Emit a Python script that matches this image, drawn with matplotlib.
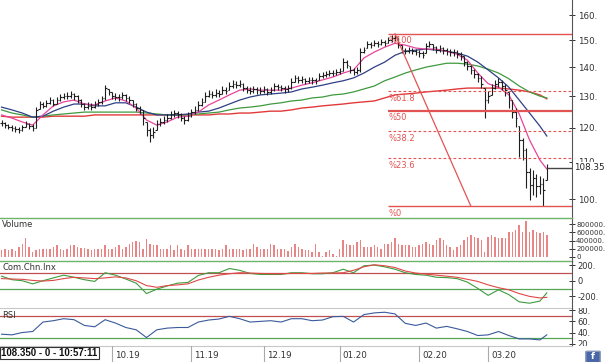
import numpy as np
import pandas as pd
import matplotlib
matplotlib.use('Agg')
import matplotlib.pyplot as plt
from matplotlib.ticker import NullLocator
from matplotlib.transforms import Bbox, TransformedBbox, blended_transform_factory
from matplotlib.patches import FancyBboxPatch

# daily bars, 16.08.2019 -> 25.03.2020
close = [121.5, 120.8, 120.2, 119.9, 119.6, 119.3, 120.2, 121.1, 120.5, 119.9,
         125.6, 127.5, 126.9, 127.9, 128.8, 127.5, 128.8, 129.8, 130.1, 130.1,
         130.8, 130.1, 128.8, 127.5, 126.5, 126.9, 126.5, 127.5, 128.2, 129.5,
         132.8, 131.5, 130.1, 129.8, 129.8, 130.5, 129.5, 128.8, 127.5, 126.2,
         125.6, 123.0, 119.3, 117.8, 118.7, 121.1, 121.8, 122.4, 123.0, 124.3,
         124.6, 124.3, 123.0, 122.4, 123.6, 124.9, 125.6, 127.2, 128.2, 130.1,
         130.8, 130.5, 131.1, 130.8, 132.1, 131.8, 133.5, 134.3, 133.8, 134.3,
         132.8, 132.1, 131.8, 132.5, 132.1, 131.8, 132.5, 131.5, 132.1, 133.5,
         133.1, 132.8, 132.5, 132.8, 135.0, 136.3, 135.6, 136.0, 135.3, 135.6,
         135.6, 135.3, 137.0, 137.3, 137.6, 138.0, 138.0, 138.4, 138.7, 141.9,
         140.8, 139.1, 138.4, 139.1, 145.6, 146.3, 148.6, 148.2, 148.9, 148.6,
         149.3, 148.9, 150.1, 150.9, 151.3, 148.2, 146.3, 145.9, 146.3, 145.9,
         145.6, 145.2, 144.4, 147.8, 148.6, 147.4, 146.3, 147.1, 146.3, 145.9,
         145.6, 145.6, 144.8, 144.1, 141.9, 140.5, 139.1, 137.6, 136.3, 134.3,
         128.8, 130.1, 132.8, 134.3, 135.0, 133.5, 132.1, 128.8, 124.9, 123.0,
         116.3, 113.3, 107.1, 103.6, 105.5, 103.4, 103.9, 102.3, 108.35]
high = [122.4, 121.8, 121.1, 120.8, 120.5, 120.2, 120.8, 122.1, 121.5, 121.1,
        126.5, 128.5, 128.2, 128.8, 129.8, 129.2, 129.8, 130.8, 131.1, 131.5,
        131.8, 131.1, 130.5, 129.2, 127.9, 128.2, 127.9, 128.5, 129.2, 130.1,
        133.8, 132.5, 131.5, 131.1, 130.8, 131.5, 130.8, 130.1, 128.8, 127.9,
        126.9, 125.6, 121.8, 119.9, 120.2, 122.4, 123.0, 123.6, 124.3, 125.2,
        125.6, 125.2, 124.6, 123.6, 124.9, 125.9, 126.9, 128.5, 129.5, 131.5,
        132.1, 131.8, 132.5, 132.1, 133.5, 133.1, 135.0, 135.6, 135.3, 135.6,
        134.6, 133.5, 133.1, 133.5, 133.1, 133.1, 133.5, 132.8, 133.1, 134.6,
        134.3, 133.8, 133.5, 133.8, 136.3, 137.3, 137.0, 137.0, 136.3, 136.6,
        136.6, 136.3, 138.0, 138.4, 138.7, 139.1, 139.1, 139.4, 139.8, 143.4,
        142.6, 140.5, 139.8, 140.1, 147.1, 147.4, 149.7, 149.3, 150.1, 149.7,
        150.5, 150.1, 151.3, 152.1, 152.5, 150.9, 148.2, 147.1, 147.4, 147.1,
        146.7, 146.3, 145.9, 148.9, 149.7, 148.6, 147.8, 148.2, 147.4, 147.1,
        146.7, 146.7, 146.3, 145.6, 144.1, 142.3, 140.8, 139.4, 138.0, 137.0,
        132.8, 131.8, 134.3, 135.6, 136.3, 135.6, 134.3, 131.5, 128.8, 126.2,
        120.5, 116.9, 113.9, 108.2, 107.7, 106.6, 106.0, 105.5, 109.4]
low = [120.5, 119.9, 119.6, 119.0, 118.7, 118.4, 119.0, 120.2, 119.6, 119.0,
       119.9, 125.9, 126.2, 126.5, 127.5, 126.9, 127.5, 128.5, 129.2, 129.2,
       129.5, 128.8, 127.9, 126.5, 125.6, 125.9, 125.6, 126.2, 126.9, 127.5,
       128.8, 130.5, 129.2, 128.8, 128.5, 129.2, 128.5, 127.9, 126.5, 125.2,
       124.3, 120.8, 117.5, 115.7, 116.9, 119.3, 120.5, 121.1, 121.8, 122.7,
       123.3, 123.0, 122.1, 121.1, 122.1, 123.3, 124.3, 125.2, 126.9, 128.2,
       129.8, 129.5, 129.8, 129.8, 130.8, 130.8, 132.1, 132.8, 132.8, 133.1,
       131.8, 131.1, 130.8, 131.1, 130.8, 130.8, 131.1, 130.5, 130.8, 131.8,
       132.1, 131.8, 131.1, 131.5, 132.5, 135.0, 134.6, 134.6, 134.3, 134.6,
       134.3, 134.3, 135.6, 136.3, 136.6, 137.0, 137.0, 137.3, 137.6, 138.7,
       139.8, 138.0, 137.3, 137.6, 138.4, 145.2, 147.1, 147.1, 147.8, 147.4,
       148.2, 147.8, 148.9, 149.3, 149.7, 147.1, 145.2, 144.8, 145.2, 144.8,
       144.4, 143.7, 143.4, 145.2, 147.4, 146.3, 145.2, 145.6, 144.8, 144.4,
       144.1, 144.1, 143.4, 142.6, 140.5, 139.1, 137.6, 136.3, 135.0, 132.8,
       123.0, 127.9, 130.5, 132.5, 133.1, 132.1, 130.1, 126.2, 123.0, 120.2,
       111.3, 110.5, 102.9, 99.7, 101.0, 100.5, 101.2, 98.2, 105.0]
volume_k = [158, 183, 158, 183, 142, 242, 325, 467, 242, 117,
            158, 200, 183, 200, 200, 242, 300, 183, 158, 183,
            283, 300, 242, 220, 220, 200, 158, 200, 200, 183,
            283, 200, 183, 242, 283, 200, 242, 325, 367, 383,
            367, 200, 433, 325, 300, 283, 200, 183, 200, 283,
            158, 300, 200, 158, 283, 183, 183, 183, 200, 200,
            200, 183, 200, 158, 200, 300, 200, 200, 183, 200,
            158, 200, 183, 325, 242, 200, 183, 183, 325, 283,
            200, 183, 200, 133, 242, 325, 240, 200, 158, 158,
            117, 325, 117, 17, 117, 158, 75, 33, 200, 408,
            325, 283, 283, 367, 408, 242, 242, 242, 283, 242,
            200, 325, 325, 367, 450, 325, 283, 283, 283, 242,
            242, 283, 325, 367, 325, 283, 408, 450, 408, 283,
            242, 158, 242, 283, 408, 492, 533, 492, 450, 408,
            117, 492, 533, 492, 450, 450, 450, 617, 617, 658,
            783, 617, 867, 617, 658, 617, 575, 617, 533]

# indicator lines, read every third bar
ind_idx = list(range(0, 157, 3)) + [158]
ma_fast = [124.0, 123.0, 121.8, 120.8, 124.0, 126.9, 128.2, 128.8, 127.5, 127.2,
           128.5, 129.5, 128.5, 126.2, 122.4, 120.8, 121.8, 123.3, 123.6, 124.9,
           127.2, 128.8, 130.5, 132.1, 132.5, 132.1, 132.1, 132.1, 132.8, 133.8,
           134.6, 135.6, 136.6, 138.0, 139.1, 143.4, 145.6, 147.4, 148.9, 148.2,
           147.1, 146.7, 146.7, 145.9, 144.8, 142.6, 138.0, 134.3, 133.1, 130.5,
           124.3, 116.3, 110.5, 108.0]
ma_mid = [126.5, 125.6, 124.6, 123.3, 123.6, 125.2, 126.5, 127.5, 127.5, 126.9,
          126.9, 127.9, 127.9, 126.5, 124.9, 124.0, 124.0, 124.0, 124.3, 124.9,
          125.2, 126.2, 127.5, 128.8, 129.8, 130.5, 130.8, 131.1, 131.5, 132.5,
          133.1, 133.8, 134.6, 135.3, 136.3, 138.0, 140.1, 141.9, 144.4, 145.9,
          146.3, 146.7, 146.3, 145.9, 145.2, 144.1, 141.9, 139.1, 136.3, 133.1,
          128.8, 124.6, 120.5, 117.5]
ma_slow = [125.6, 124.6, 124.0, 123.3, 123.6, 124.0, 124.3, 124.6, 124.9, 124.9,
           124.9, 124.9, 124.9, 124.9, 124.6, 124.3, 124.0, 124.0, 124.0, 124.3,
           124.6, 124.9, 125.6, 126.2, 126.5, 126.9, 127.5, 127.9, 128.5, 128.8,
           129.5, 129.8, 130.5, 130.8, 131.5, 132.5, 133.5, 135.3, 136.6, 138.0,
           139.1, 140.1, 140.8, 141.5, 141.5, 141.2, 140.5, 139.4, 138.0, 136.0,
           133.5, 131.5, 130.1, 129.5]
ma_long = [123.6, 123.3, 123.3, 123.3, 123.3, 123.6, 123.6, 123.6, 123.6, 124.0,
           124.0, 124.0, 124.0, 124.0, 124.0, 124.0, 124.0, 124.0, 124.0, 124.0,
           124.0, 124.3, 124.3, 124.6, 124.6, 124.9, 125.2, 125.2, 125.6, 126.2,
           126.5, 126.9, 127.2, 127.5, 127.9, 128.2, 128.5, 129.5, 130.5, 130.8,
           131.1, 131.5, 131.8, 132.1, 132.5, 132.8, 132.8, 132.8, 132.8, 132.5,
           132.1, 131.5, 130.5, 129.2]
cci = [58, 13, 0, -40, 0, 36, 71, 44, 13, -9,
       102, 71, 22, -31, -164, -107, -67, -31, -22, 67,
       102, 102, 156, 133, 93, 80, 80, 80, 102, 102,
       89, 89, 102, 147, 102, 191, 200, 178, 147, 102,
       80, 71, 44, 40, 27, -18, -98, -187, -116, -178,
       -270, -287, -260, -155]
cci_signal = [27, 22, 18, 4, -4, 4, 27, 44, 36, 27,
              36, 49, 36, 0, -62, -84, -62, -53, -40, 9,
              44, 71, 89, 102, 98, 93, 89, 89, 93, 93,
              93, 98, 98, 102, 133, 178, 204, 191, 169, 124,
              98, 84, 71, 58, 44, 18, -9, -53, -89, -116,
              -164, -200, -220, -212]
rsi = [37, 35.8, 40, 41.8, 58.8, 61.2, 64.8, 63, 52.7, 50.3,
       63, 57, 49, 44.9, 31, 44.9, 47.9, 49, 49, 58.8,
       62.4, 64.2, 69, 64.8, 58.8, 60, 61.2, 58.8, 64.8, 64.8,
       61.2, 62.4, 68.4, 69, 58.8, 72.2, 75.2, 76.4, 73.4, 56.4,
       52.7, 57, 47.9, 51, 46.7, 41.8, 34.6, 35.8, 41.8, 34.6,
       28.5, 28.5, 26.7, 35.8]

# fibonacci retracement drawn on the chart
fib_high = 152.5
fib_low = 98.2
fib_levels = [100, 61.8, 50, 38.2, 23.6, 0]
fib_from = 112          # bar where the levels start
fib_line = (114, 136)   # diagonal from the top to the bottom level

month_labels = ['10.19', '11.19', '12.19', '01.20', '02.20', '03.20']
status_text = '108.350 - 0 - 10:57:11'

dates = pd.bdate_range('2019-08-16', periods=len(close))
idx = np.arange(len(close))
close_a = np.array(close)
open_a = np.clip(np.r_[close_a[0], close_a[:-1]], low, high)

fig = plt.figure(figsize=(6.05, 3.62), dpi=100)
W, H = 605., 362.

def px_axes(x0, y0, x1, y1):
    return fig.add_axes([x0 / W, 1 - y1 / H, (x1 - x0) / W, (y1 - y0) / H])

ax = px_axes(0, 0, 572, 218)
axv = px_axes(0, 218, 572, 261)
axc = px_axes(0, 261, 572, 307.5)
axr = px_axes(0, 307.5, 572, 346)
axd = px_axes(0, 346, 572, 362)

xlim = (-0.46, 165.3)
axis_col = '#555555'
txt_col = '#333333'
for a in (ax, axv, axc, axr, axd):
    a.set_xlim(*xlim)
    a.set_xticks([])
    a.patch.set_alpha(0)
    a.spines['left'].set_visible(False)
    a.spines['top'].set_visible(False)
    a.spines['bottom'].set_visible(False)
    a.spines['right'].set_color(axis_col)
    a.spines['right'].set_linewidth(0.8)
    a.yaxis.tick_right()
    a.tick_params(axis='y', labelsize=6, colors=txt_col, direction='inout',
                  length=4, width=0.7, pad=2)

# --- price panel
ax.set_yscale('log')
ax.set_ylim(95.3, 166.3)
ax.yaxis.set_minor_locator(NullLocator())
pticks = [100, 110, 120, 130, 140, 150, 160]
ax.set_yticks(pticks)
ax.set_yticklabels(['%d.' % t for t in pticks])
ax.tick_params(axis='y', labelsize=6.3)

ax.plot(ind_idx, ma_long, color='#e23a3a', lw=1.0, zorder=2)
ax.plot(ind_idx, ma_slow, color='#3f9a3f', lw=0.9, zorder=2)
ax.plot(ind_idx, ma_mid, color='#2f3f86', lw=0.9, zorder=2)
ax.plot(ind_idx, ma_fast, color='#e8449c', lw=0.9, zorder=2)

bar_col = '#1e1e1e'
ax.vlines(idx, low, high, color=bar_col, lw=0.8, zorder=3)
ax.hlines(open_a, idx - 0.45, idx, color=bar_col, lw=0.8, zorder=3)
ax.hlines(close_a, idx, idx + 0.45, color=bar_col, lw=0.8, zorder=3)

fib_col = '#e25454'
for lev in fib_levels:
    price = fib_low + (fib_high - fib_low) * lev / 100.0
    if lev in (100, 0):
        ax.hlines(price, fib_from, xlim[1], color=fib_col, lw=1.0, zorder=4)
    elif lev == 50:
        ax.hlines(price, fib_from, xlim[1], color=fib_col, lw=1.6, zorder=4)
    else:
        ax.hlines(price, fib_from, xlim[1], color=fib_col, lw=0.8,
                  linestyles=(0, (2.5, 2)), zorder=4)
    lab = '%' + ('%g' % lev)
    ax.text(fib_from + 0.2, price * 0.994, lab, color=fib_col, fontsize=6,
            va='top', ha='left', zorder=5)
ax.plot(fib_line, [fib_high, fib_low], color=fib_col, lw=0.9, zorder=4)

ax.hlines(close[-1], idx[-1], xlim[1], color='#444444', lw=1.0, zorder=4)
tr = blended_transform_factory(ax.transAxes, ax.transData)
ax.text(1.004, close[-1], '%.2f' % close[-1], transform=tr, fontsize=6.3,
        color='#222222', va='center', ha='left', clip_on=False, zorder=10,
        bbox=dict(boxstyle='square,pad=0.1', fc='white', ec='none'))

# --- volume panel
vol = np.array(volume_k) * 1000
axv.bar(idx, vol, width=0.42, color='#e98585', zorder=2)
axv.set_ylim(-100000, 950000)
vticks = [0, 200000, 400000, 600000, 800000]
axv.set_yticks(vticks)
axv.set_yticklabels(['0'] + ['%d.' % t for t in vticks[1:]])
axv.tick_params(axis='y', labelsize=5.0, pad=1)
for s in ('top', 'bottom'):
    axv.spines[s].set_visible(True)
    axv.spines[s].set_color('#6db46d')
    axv.spines[s].set_linewidth(1.0)
axv.text(0.004, 0.80, 'Volume', transform=axv.transAxes, fontsize=6,
         color=txt_col)

# --- commodity channel index panel
axc.set_ylim(-342, 252)
axc.axhline(100, color='#c05050', lw=0.9)
axc.axhline(-100, color='#55a655', lw=0.9)
axc.plot(ind_idx, cci, color='#3f9a3f', lw=0.8)
axc.plot(ind_idx, cci_signal, color='#e04848', lw=0.8)
axc.set_yticks([200, 0, -200])
axc.set_yticklabels(['200.', '0', '-200.'])
axc.spines['bottom'].set_visible(True)
axc.spines['bottom'].set_color('#c8c8c8')
axc.text(0.004, 0.80, 'Com.Chn.Inx', transform=axc.transAxes, fontsize=6,
         color=txt_col)

# --- rsi panel
axr.set_ylim(15.8, 84.9)
axr.axhline(70, color='#c05050', lw=0.9)
axr.axhline(30, color='#55a655', lw=0.9)
axr.plot(ind_idx, rsi, color='#3a5a9c', lw=0.8)
axr.set_yticks([20, 40, 60, 80])
axr.set_yticklabels(['20.', '40.', '60.', '80.'])
axr.spines['bottom'].set_visible(True)
axr.spines['bottom'].set_color('#c8c8c8')
axr.text(0.004, 0.72, 'RSI', transform=axr.transAxes, fontsize=6,
         color=txt_col)
clip = TransformedBbox(Bbox([[0.9, 1 - 346 / H], [1.0, 1 - 307.5 / H]]),
                       fig.transFigure)
for t in axr.get_yticklabels():
    t.set_clip_box(clip)
    t.set_clip_on(True)

# --- date strip
axd.spines['right'].set_visible(False)
axd.set_yticks([])
axd.set_ylim(0, 1)
labels = dates.strftime('%m.%y')
for lab in month_labels:
    pos = int(np.argmax(labels == lab))
    axd.axvline(pos, color='#aaaaaa', lw=0.8)
    axd.text(pos + 0.8, 0.42, lab, fontsize=6.3, color=txt_col, va='center')
fig.text(1 / W, 1 - 353 / H, status_text, fontsize=7, fontweight='bold',
         family='Liberation Sans', va='center', ha='left', color='#111111',
         bbox=dict(boxstyle='square,pad=0.15', fc='white', ec='#333333', lw=0.8))

# small share icon in the corner
fig.patches.append(FancyBboxPatch((587 / W, 0), 12 / W, 10 / H,
                                  boxstyle='round,pad=0.002', fc='#4a67a8',
                                  ec='#8899bb', transform=fig.transFigure))
fig.text(593 / W, 5.5 / H, 'f', color='white', fontsize=6.5, fontweight='bold',
         ha='center', va='center')

fig.savefig('out.png', dpi=100)
